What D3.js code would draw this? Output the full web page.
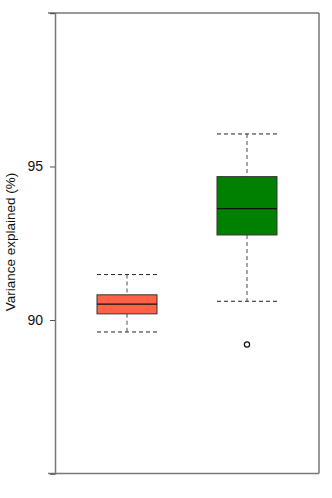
<!DOCTYPE html>
<html>
<head>
<meta charset="utf-8">
<script src="https://cdn.jsdelivr.net/npm/d3@7"></script>
<style>
  body { margin: 0; background: #fff; }
  svg { display: block; font-family: "Liberation Sans", Arial, sans-serif; }
</style>
</head>
<body>
<svg id="chart"></svg>
<script>
// data
var groups = ["A", "B"];
var whiskerLow = [89.61, 90.61];
var q1 = [90.2, 92.77];
var medians = [90.52, 93.63];
var q3 = [90.82, 94.67];
var whiskerHigh = [91.48, 96.06];
var outliers = [[], [89.2]];
var fills = ["#ff6347", "#008000"];
var yTicks = [85, 90, 95, 100];
var yLabels = [90, 95];

var width = 332, height = 498;
// note: "top" is taken by window.top, so use plot_* names
var plot_left = 55, plot_right = 319, plot_top = 13, plot_bottom = 473.5;

var svg = d3.select("#chart").attr("width", width).attr("height", height);

var y = d3.scaleLinear().domain([85, 100]).range([plot_bottom, plot_top]);
var x = d3.scaleBand().domain(groups).range([97, 277]).paddingInner(0.5).paddingOuter(0);

var boxes = groups.map(function (g, i) {
  return { g: g, lo: whiskerLow[i], q1: q1[i], med: medians[i], q3: q3[i], hi: whiskerHigh[i], out: outliers[i], fill: fills[i] };
});

var bw = x.bandwidth();
var cx = function (d) { return x(d.g) + bw / 2; };

// whisker stems
svg.selectAll(".stem-hi").data(boxes).enter().append("line")
  .attr("x1", cx).attr("x2", cx)
  .attr("y1", function (d) { return y(d.hi); })
  .attr("y2", function (d) { return y(d.q3); })
  .attr("stroke", "#777").attr("stroke-width", 1.3).attr("stroke-dasharray", "4,3");
svg.selectAll(".stem-lo").data(boxes).enter().append("line")
  .attr("x1", cx).attr("x2", cx)
  .attr("y1", function (d) { return y(d.q1); })
  .attr("y2", function (d) { return y(d.lo); })
  .attr("stroke", "#777").attr("stroke-width", 1.3).attr("stroke-dasharray", "4,3");

// caps
["hi", "lo"].forEach(function (k) {
  svg.selectAll(".cap-" + k).data(boxes).enter().append("line")
    .attr("x1", function (d) { return x(d.g); })
    .attr("x2", function (d) { return x(d.g) + bw; })
    .attr("y1", function (d) { return y(d[k]); })
    .attr("y2", function (d) { return y(d[k]); })
    .attr("stroke", "#222").attr("stroke-width", 1).attr("stroke-dasharray", "4,3");
});

// boxes
svg.selectAll(".box").data(boxes).enter().append("rect")
  .attr("x", function (d) { return x(d.g); })
  .attr("width", bw)
  .attr("y", function (d) { return y(d.q3); })
  .attr("height", function (d) { return y(d.q1) - y(d.q3); })
  .attr("fill", function (d) { return d.fill; })
  .attr("stroke", "#333").attr("stroke-width", 1);

// medians
svg.selectAll(".med").data(boxes).enter().append("line")
  .attr("x1", function (d) { return x(d.g); })
  .attr("x2", function (d) { return x(d.g) + bw; })
  .attr("y1", function (d) { return y(d.med); })
  .attr("y2", function (d) { return y(d.med); })
  .attr("stroke", "#111").attr("stroke-width", 1.2);

// outliers
boxes.forEach(function (d) {
  svg.selectAll(null).data(d.out).enter().append("circle")
    .attr("cx", cx(d)).attr("cy", function (v) { return y(v); })
    .attr("r", 2.6).attr("fill", "#fff").attr("stroke", "#111").attr("stroke-width", 1.2);
});

// frame
svg.append("line").attr("x1", plot_left - 7).attr("x2", plot_right).attr("y1", plot_top).attr("y2", plot_top)
  .attr("stroke", "#777").attr("stroke-width", 1.5);
svg.append("line").attr("x1", plot_left - 7).attr("x2", plot_right).attr("y1", plot_bottom).attr("y2", plot_bottom)
  .attr("stroke", "#777").attr("stroke-width", 1.5);
svg.append("line").attr("x1", plot_right).attr("x2", plot_right).attr("y1", plot_top).attr("y2", plot_bottom)
  .attr("stroke", "#777").attr("stroke-width", 1.5);

// y axis
var yAxis = d3.axisLeft(y).tickValues(yTicks).tickSize(5).tickPadding(7)
  .tickFormat(function (v) { return yLabels.indexOf(v) >= 0 ? v : ""; });
var ga = svg.append("g").attr("transform", "translate(" + plot_left + ",0)").call(yAxis);
ga.select(".domain").attr("stroke", "#777").attr("stroke-width", 1.5);
ga.selectAll(".tick line").attr("stroke", "#555");
ga.selectAll(".tick text").attr("font-size", 14).attr("fill", "#111")
  .attr("font-family", "Liberation Sans, Arial, sans-serif");

svg.append("text")
  .attr("transform", "translate(15,242) rotate(-90)")
  .attr("text-anchor", "middle")
  .attr("font-size", 13.5)
  .attr("fill", "#111")
  .text("Variance explained (%)");
</script>
</body>
</html>
